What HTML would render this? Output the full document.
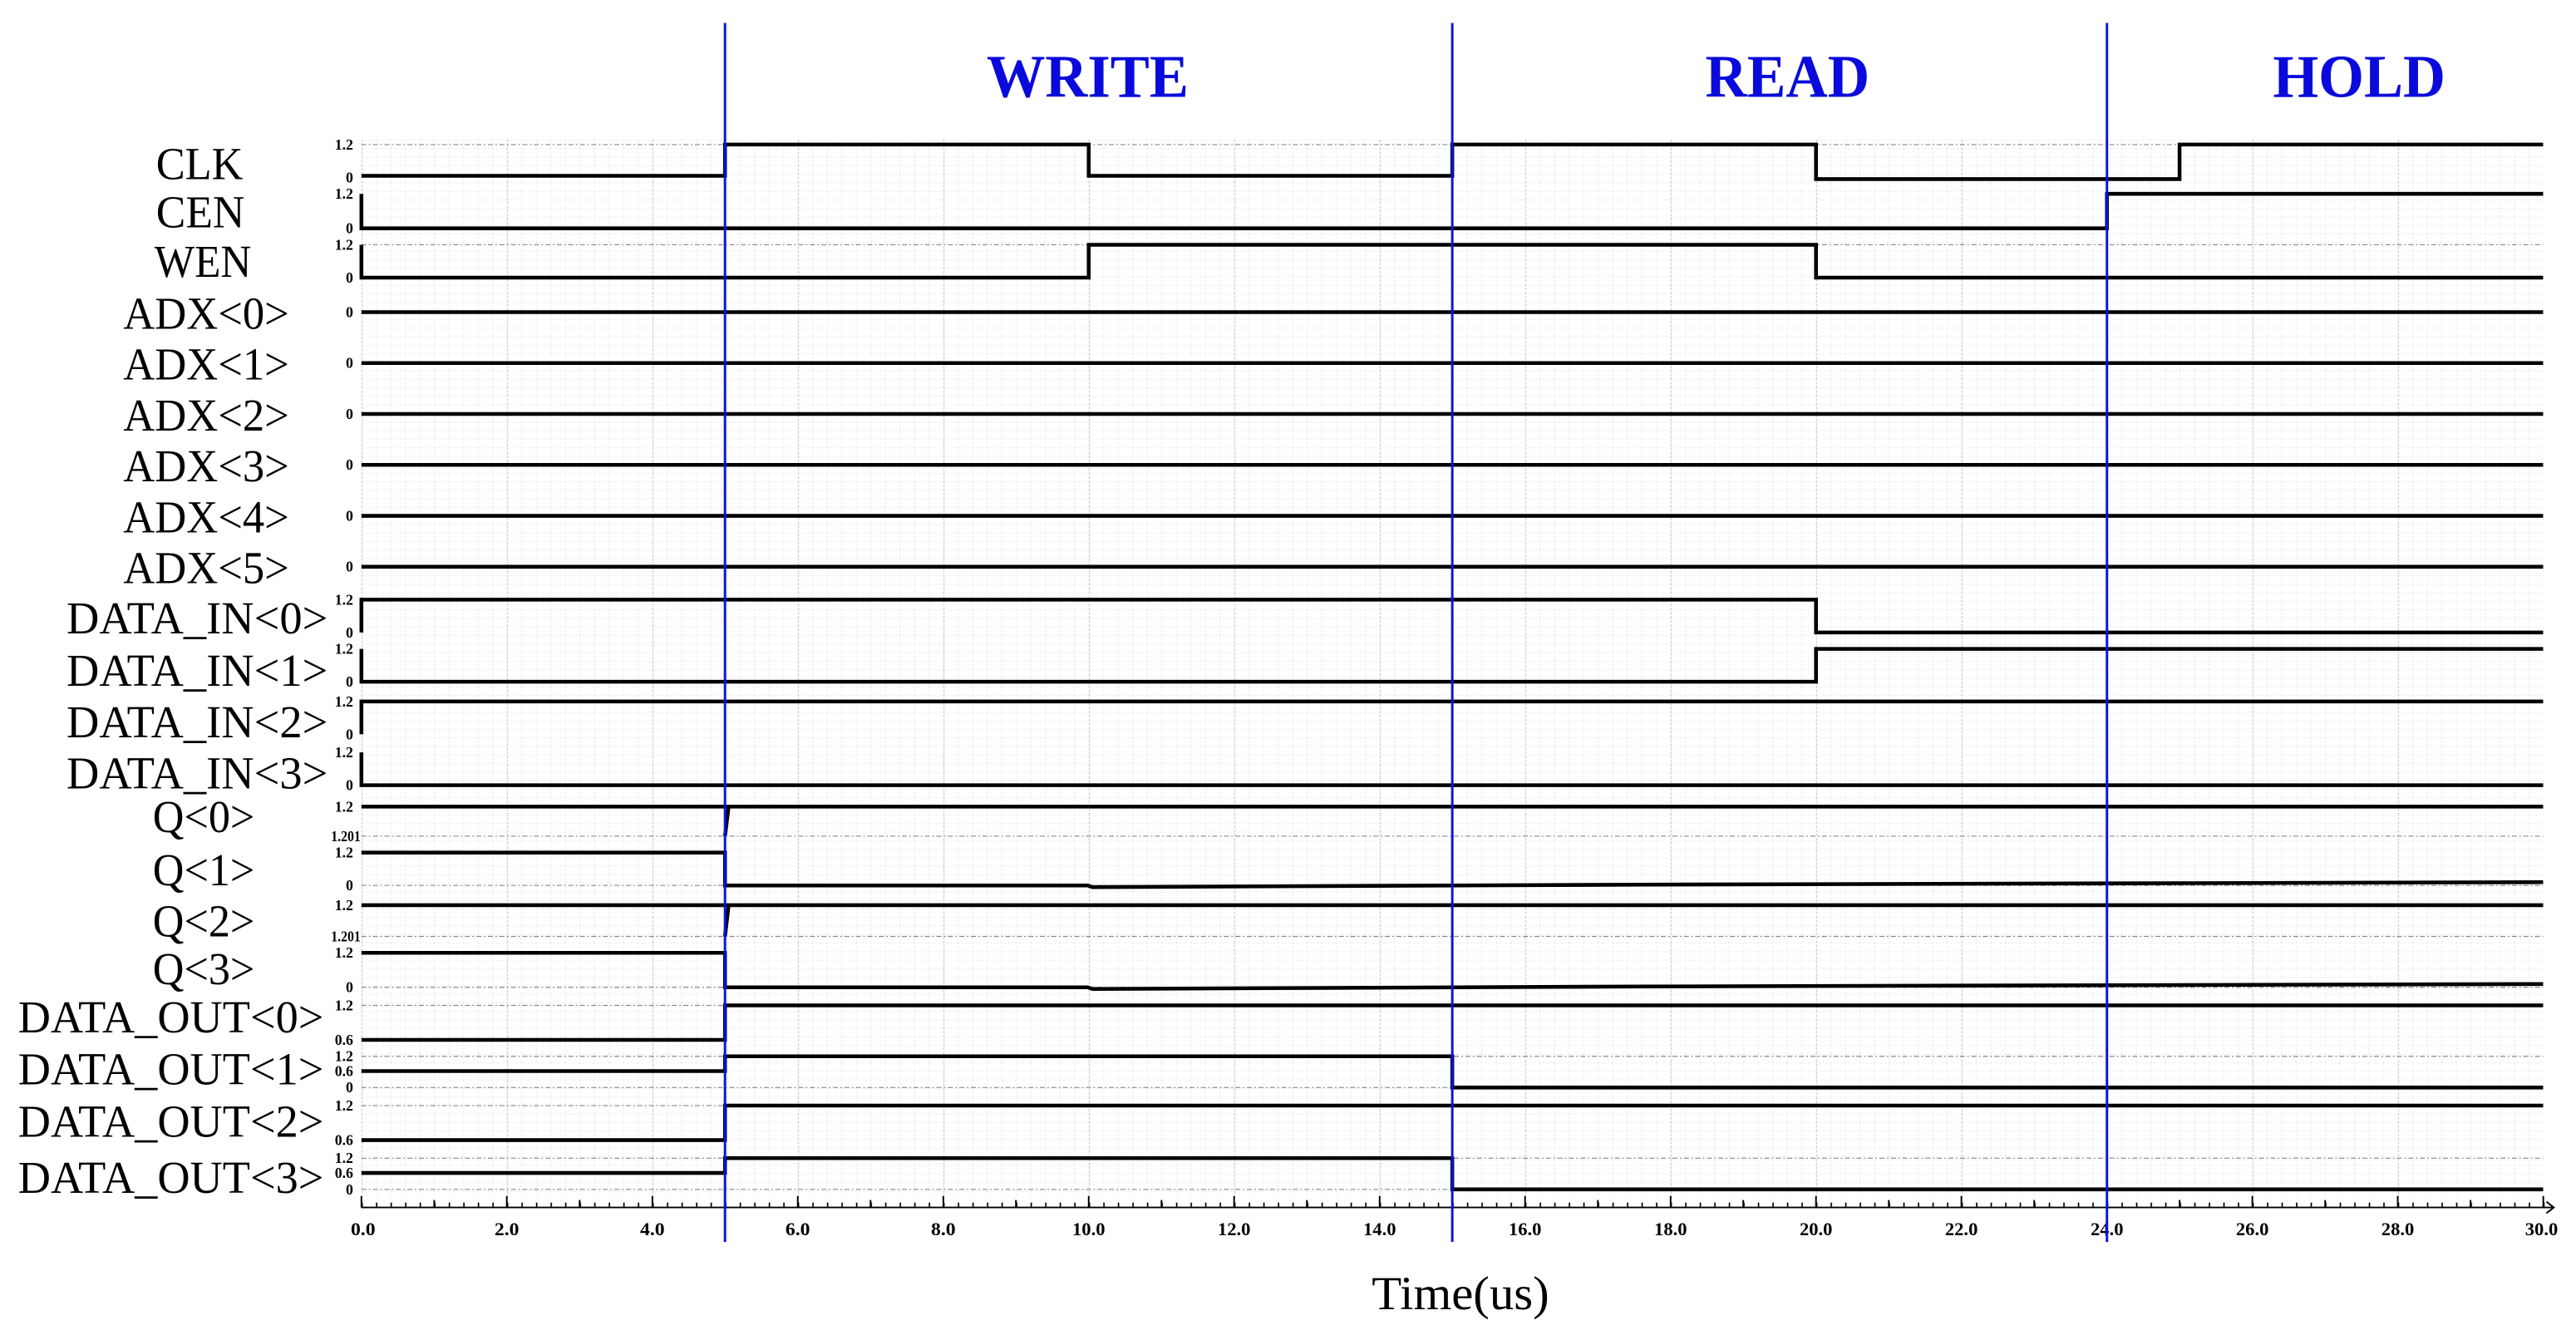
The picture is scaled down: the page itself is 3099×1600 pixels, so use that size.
<!DOCTYPE html>
<html><head><meta charset="utf-8"><style>
html,body{margin:0;padding:0;background:#fff;}
svg{display:block;}
.lab{font-family:"Liberation Serif",serif;font-size:28px;fill:#000;}
.yl{font-family:"Liberation Serif",serif;font-size:9px;font-weight:bold;fill:#000;}
.tl{font-family:"Liberation Serif",serif;font-size:11px;font-weight:bold;fill:#000;text-anchor:middle;}
.ttl{font-family:"Liberation Serif",serif;font-size:37px;font-weight:bold;fill:#0a0adc;text-anchor:middle;}
.sig{stroke:#000;stroke-width:2.3;fill:none;}
.ref{stroke:#888;stroke-width:0.6;stroke-dasharray:3 1.5 1 1.5;fill:none;}
</style></head><body>
<svg width="3099" height="1600" viewBox="0 0 1568 809.6" preserveAspectRatio="none" xmlns="http://www.w3.org/2000/svg">
<defs>
<pattern id="g1" patternUnits="userSpaceOnUse" x="220" y="85" width="8.854" height="5.2">
<line x1="0.3" y1="0" x2="0.3" y2="5.2" stroke="#ececec" stroke-width="0.6" stroke-dasharray="1 1"/>
<line x1="0" y1="0.3" x2="8.854" y2="0.3" stroke="#eeeeee" stroke-width="0.6" stroke-dasharray="1 1"/>
</pattern>
<pattern id="g2" patternUnits="userSpaceOnUse" x="220" y="0" width="88.54" height="10">
<line x1="0.4" y1="0" x2="0.4" y2="10" stroke="#d2d2d2" stroke-width="0.7" stroke-dasharray="1.5 1"/>
</pattern>
<pattern id="tk" patternUnits="userSpaceOnUse" x="220" y="0" width="8.854" height="800">
<line x1="0.4" y1="732" x2="0.4" y2="735" stroke="#000" stroke-width="0.9"/>
</pattern>
</defs>
<rect x="220" y="85" width="1328" height="643" fill="url(#g1)"/>
<rect x="220" y="85" width="1328" height="643" fill="url(#g2)"/>

<g class="ref">
<path d="M220 88H1548M220 149H1548M220 509H1548M220 539H1548M220 570H1548M220 601H1548M220 612H1548M220 643H1548M220 662H1548M220 673H1548M220 705H1548M220 724H1548"/>
</g>

<g class="sig">
<path d="M220 107H441.3V88H662.7V107H884V88H1105.4V109H1326.7V88H1548"/>
<path d="M220 118V139H1282.5V118H1548"/>
<path d="M220 149V169H662.7V149H1105.4V169H1548"/>
<path d="M220 190H1548M220 221H1548M220 252H1548M220 283H1548M220 314H1548M220 345H1548"/>
<path d="M220 385V365H1105.4V385H1548"/>
<path d="M220 395V415H1105.4V395H1548"/>
<path d="M220 447V427H1548"/>
<path d="M220 458V478H1548"/>
<path d="M220 491H1548M441.3 509L443.5 491"/>
<path d="M220 519H441.3V539H662L665 540L1000 538.5L1548 537"/>
<path d="M220 551H1548M441.3 570L443.5 551"/>
<path d="M220 580H441.3V601H662L665 602L1000 600.5L1548 599"/>
<path d="M220 633H441.3V612H1548"/>
<path d="M220 652H441.3V643H884V662H1548"/>
<path d="M220 694H441.3V673H1548"/>
<path d="M220 714H441.3V705H884V724H1548"/>
</g>

<rect x="220" y="728" width="1329" height="8" fill="url(#tk)"/>
<path d="M220 735H1554M1550 731.5L1554.5 735L1550 738.5" stroke="#000" stroke-width="1" fill="none"/>
<path stroke="#000" stroke-width="1" fill="none" d="
M220 735v-7M264.3 735v-4.5M308.5 735v-7M352.8 735v-4.5M397.1 735v-7M441.4 735v-4.5M485.6 735v-7M529.9 735v-4.5M574.2 735v-7M618.4 735v-4.5M662.7 735v-7M707 735v-4.5M751.2 735v-7M795.5 735v-4.5M839.8 735v-7M884 735v-4.5M928.3 735v-7M972.6 735v-4.5M1016.9 735v-7M1061.1 735v-4.5M1105.4 735v-7M1149.7 735v-4.5M1193.9 735v-7M1238.2 735v-4.5M1282.5 735v-7M1326.7 735v-4.5M1371 735v-7M1415.3 735v-4.5M1459.5 735v-7M1503.8 735v-4.5M1548.1 735v-7"/>
<g>
<text class="tl" x="221" y="752" textLength="15" lengthAdjust="spacingAndGlyphs">0.0</text>
<text class="tl" x="308.5" y="752" textLength="15" lengthAdjust="spacingAndGlyphs">2.0</text>
<text class="tl" x="397.1" y="752" textLength="15" lengthAdjust="spacingAndGlyphs">4.0</text>
<text class="tl" x="485.6" y="752" textLength="15" lengthAdjust="spacingAndGlyphs">6.0</text>
<text class="tl" x="574.2" y="752" textLength="15" lengthAdjust="spacingAndGlyphs">8.0</text>
<text class="tl" x="662.7" y="752" textLength="20" lengthAdjust="spacingAndGlyphs">10.0</text>
<text class="tl" x="751.2" y="752" textLength="20" lengthAdjust="spacingAndGlyphs">12.0</text>
<text class="tl" x="839.8" y="752" textLength="20" lengthAdjust="spacingAndGlyphs">14.0</text>
<text class="tl" x="928.3" y="752" textLength="20" lengthAdjust="spacingAndGlyphs">16.0</text>
<text class="tl" x="1016.9" y="752" textLength="20" lengthAdjust="spacingAndGlyphs">18.0</text>
<text class="tl" x="1105.4" y="752" textLength="20" lengthAdjust="spacingAndGlyphs">20.0</text>
<text class="tl" x="1193.9" y="752" textLength="20" lengthAdjust="spacingAndGlyphs">22.0</text>
<text class="tl" x="1282.5" y="752" textLength="20" lengthAdjust="spacingAndGlyphs">24.0</text>
<text class="tl" x="1371" y="752" textLength="20" lengthAdjust="spacingAndGlyphs">26.0</text>
<text class="tl" x="1459.5" y="752" textLength="20" lengthAdjust="spacingAndGlyphs">28.0</text>
<text class="tl" x="1547" y="752" textLength="20" lengthAdjust="spacingAndGlyphs">30.0</text>
</g>
<text x="889" y="797" font-family="Liberation Serif,serif" font-size="29" text-anchor="middle" textLength="108" lengthAdjust="spacingAndGlyphs">Time(us)</text>

<g class="yl" text-anchor="end">
<text x="215" y="91">1.2</text><text x="215" y="111">0</text>
<text x="215" y="121">1.2</text><text x="215" y="142">0</text>
<text x="215" y="152">1.2</text><text x="215" y="172">0</text>
<text x="215" y="193">0</text><text x="215" y="224">0</text><text x="215" y="255">0</text>
<text x="215" y="286">0</text><text x="215" y="317">0</text><text x="215" y="348">0</text>
<text x="215" y="368">1.2</text><text x="215" y="388">0</text>
<text x="215" y="398">1.2</text><text x="215" y="418">0</text>
<text x="215" y="430">1.2</text><text x="215" y="450">0</text>
<text x="215" y="461">1.2</text><text x="215" y="481">0</text>
<text x="215" y="494">1.2</text>
<text x="215" y="522">1.2</text><text x="215" y="542">0</text>
<text x="215" y="554">1.2</text>
<text x="215" y="583">1.2</text><text x="215" y="604">0</text>
<text x="215" y="615">1.2</text><text x="215" y="636">0.6</text>
<text x="215" y="646">1.2</text><text x="215" y="655">0.6</text><text x="215" y="665">0</text>
<text x="215" y="676">1.2</text><text x="215" y="697">0.6</text>
<text x="215" y="708">1.2</text><text x="215" y="717">0.6</text><text x="215" y="727">0</text>
</g>
<g class="yl">
<text x="201.5" y="512" textLength="18" lengthAdjust="spacingAndGlyphs">1.201</text>
<text x="201.5" y="573" textLength="18" lengthAdjust="spacingAndGlyphs">1.201</text>
</g>

<g class="lab">
<text x="95" y="109" textLength="53" lengthAdjust="spacingAndGlyphs">CLK</text>
<text x="95" y="138.5" textLength="54" lengthAdjust="spacingAndGlyphs">CEN</text>
<text x="94" y="168.5" textLength="59" lengthAdjust="spacingAndGlyphs">WEN</text>
<text x="75" y="200" textLength="101" lengthAdjust="spacingAndGlyphs">ADX&lt;0&gt;</text>
<text x="75" y="231" textLength="101" lengthAdjust="spacingAndGlyphs">ADX&lt;1&gt;</text>
<text x="75" y="262" textLength="101" lengthAdjust="spacingAndGlyphs">ADX&lt;2&gt;</text>
<text x="75" y="293" textLength="101" lengthAdjust="spacingAndGlyphs">ADX&lt;3&gt;</text>
<text x="75" y="324" textLength="101" lengthAdjust="spacingAndGlyphs">ADX&lt;4&gt;</text>
<text x="75" y="355" textLength="101" lengthAdjust="spacingAndGlyphs">ADX&lt;5&gt;</text>
<text x="40.5" y="385.6" textLength="159" lengthAdjust="spacingAndGlyphs">DATA_IN&lt;0&gt;</text>
<text x="40.5" y="417.5" textLength="159" lengthAdjust="spacingAndGlyphs">DATA_IN&lt;1&gt;</text>
<text x="40.5" y="448.8" textLength="159" lengthAdjust="spacingAndGlyphs">DATA_IN&lt;2&gt;</text>
<text x="40.5" y="480" textLength="159" lengthAdjust="spacingAndGlyphs">DATA_IN&lt;3&gt;</text>
<text x="93" y="506.6" textLength="62" lengthAdjust="spacingAndGlyphs">Q&lt;0&gt;</text>
<text x="93" y="539" textLength="62" lengthAdjust="spacingAndGlyphs">Q&lt;1&gt;</text>
<text x="93" y="570" textLength="62" lengthAdjust="spacingAndGlyphs">Q&lt;2&gt;</text>
<text x="93" y="599" textLength="62" lengthAdjust="spacingAndGlyphs">Q&lt;3&gt;</text>
<text x="11" y="628.5" textLength="186" lengthAdjust="spacingAndGlyphs">DATA_OUT&lt;0&gt;</text>
<text x="11" y="660" textLength="186" lengthAdjust="spacingAndGlyphs">DATA_OUT&lt;1&gt;</text>
<text x="11" y="692" textLength="186" lengthAdjust="spacingAndGlyphs">DATA_OUT&lt;2&gt;</text>
<text x="11" y="726" textLength="186" lengthAdjust="spacingAndGlyphs">DATA_OUT&lt;3&gt;</text>
</g>

<g stroke="#0a14dc" stroke-width="1.5">
<line x1="441.3" y1="14" x2="441.3" y2="756"/>
<line x1="884" y1="14" x2="884" y2="756"/>
<line x1="1282.5" y1="14" x2="1282.5" y2="756"/>
</g>
<text class="ttl" x="662" y="59" textLength="123" lengthAdjust="spacingAndGlyphs">WRITE</text>
<text class="ttl" x="1088" y="59" textLength="100" lengthAdjust="spacingAndGlyphs">READ</text>
<text class="ttl" x="1436" y="59" textLength="105" lengthAdjust="spacingAndGlyphs">HOLD</text>
</svg>
</body></html>
